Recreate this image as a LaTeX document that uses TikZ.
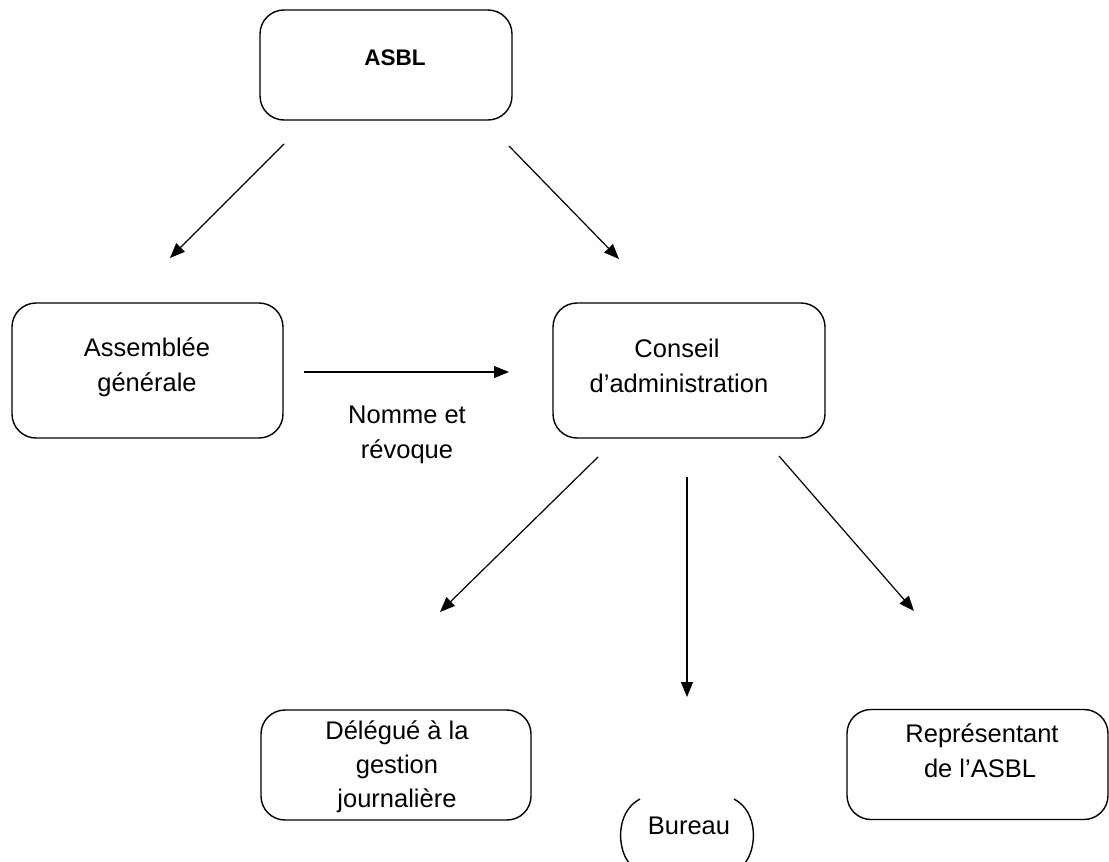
\documentclass[tikz,border=0pt]{standalone}
\usepackage{fontspec}
\setmainfont{Liberation Sans}
\usetikzlibrary{arrows.meta}
\tikzset{
  box/.style={draw, line width=1.4pt, rounded corners=24pt, inner sep=0pt},
  txt/.style={anchor=base, inner sep=0pt, font=\fontsize{25.5}{30}\selectfont},
  arr/.style={line width=1.2pt, -{Triangle[length=15pt,width=12pt]}},
  paren/.style={line width=1.4pt}
}
\begin{document}
\begin{tikzpicture}[x=1pt,y=-1pt]
\useasboundingbox (0,0) rectangle (1109,862);
% boxes
\node[box, minimum width=252pt, minimum height=110pt] (asbl) at (386,65) {};
\node[box, minimum width=271pt, minimum height=135pt] (ag) at (147.5,370.5) {};
\node[box, minimum width=272pt, minimum height=135pt] (ca) at (689,370.5) {};
\node[box, minimum width=270pt, minimum height=110pt] (dg) at (396,765) {};
\node[box, minimum width=261pt, minimum height=110pt] (rep) at (977.5,764.5) {};
% texts
\node[txt, font=\fontsize{22.5}{26}\selectfont\bfseries] (tasbl) at (395,65) {ASBL};
\node[txt] (tag1) at (147,356) {Assemblée};
\node[txt] (tag2) at (147,391) {générale};
\node[txt] (tca1) at (677,357) {Conseil};
\node[txt] (tca2) at (679,392) {d’administration};
\node[txt] (tnr1) at (407,423) {Nomme et};
\node[txt] (tnr2) at (407,458) {révoque};
\node[txt] (tdg1) at (397,739) {Délégué à la};
\node[txt] (tdg2) at (397,773) {gestion};
\node[txt] (tdg3) at (397,807) {journalière};
\node[txt] (trep1) at (982,742) {Représentant};
\node[txt] (trep2) at (980,777) {de l’ASBL};
\node[txt] (tbur) at (689,834) {Bureau};
% Bureau parentheses
\draw[paren] (640,799) .. controls (615,812) and (617,850) .. (630,864);
\draw[paren] (734,799) .. controls (759,812) and (757,850) .. (744,864);
% arrow coordinates
\coordinate (a1s) at (284,144); \coordinate (a1e) at (170,258);
\coordinate (a2s) at (509,146); \coordinate (a2e) at (619,259);
\coordinate (a3s) at (304,372); \coordinate (a3e) at (509,372);
\coordinate (a4s) at (598,457); \coordinate (a4e) at (440,612);
\coordinate (a5s) at (687,477); \coordinate (a5e) at (687,697);
\coordinate (a6s) at (779,456); \coordinate (a6e) at (914,611);
\draw[arr] (a1s) -- (a1e);
\draw[arr] (a2s) -- (a2e);
\draw[arr] (a3s) -- (a3e);
\draw[arr] (a4s) -- (a4e);
\draw[arr] (a5s) -- (a5e);
\draw[arr] (a6s) -- (a6e);
\end{tikzpicture}
\end{document}
